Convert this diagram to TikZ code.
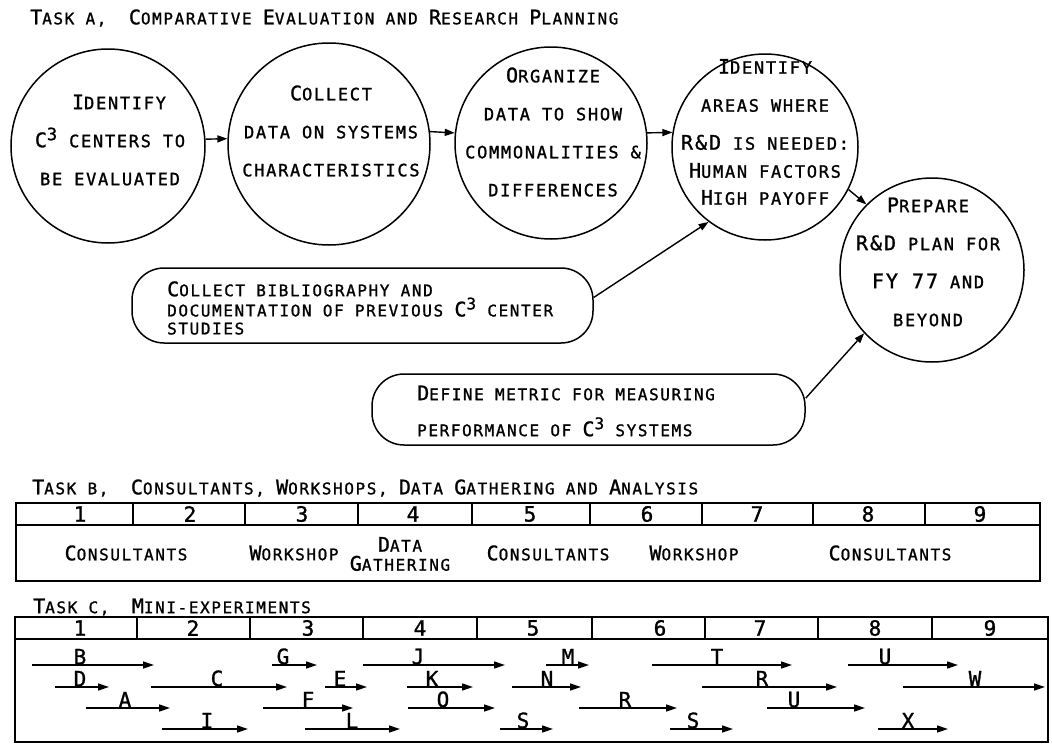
\documentclass[tikz,border=0pt]{standalone}
\usepackage{fontspec}
\usetikzlibrary{arrows.meta}
% typewriter-style lettering: small capitals built from two sizes of caps
\newfontfamily\ora[LetterSpace=10, FakeBold=1.2]{DejaVu Sans Mono}
\newcommand\Bg[1]{{\fontsize{20}{20}\selectfont #1}}
\newcommand\Cc{\Bg{C}\raisebox{7pt}{3}}
% one bar of the mini-experiment schedule: id, letter, x start, x end, row y, label x
\newcommand\mini[6]{%
  \coordinate (#1a) at (#3,#5);
  \coordinate (#1b) at (#4,#5);
  \draw[bar] (#1a) -- (#1b);
  \node[lbl] (#1) at (#6,#5) {#2};}
\begin{document}
\begin{tikzpicture}[x=1pt,y=-1pt,
  every node/.style={font=\ora\fontsize{16}{18}\selectfont, inner sep=0pt},
  bubble/.style={draw, circle, line width=1.5pt},
  txt/.style={align=center, font=\ora\fontsize{17}{38}\selectfont},
  pill/.style={draw, rounded corners=32pt, line width=1.5pt},
  conn/.style={line width=1.4pt, -{Triangle[length=10pt,width=7pt]}},
  bar/.style={line width=1.5pt, -{Triangle[length=11pt,width=7pt]}},
  tbl/.style={line width=1.5pt},
  lbl/.style={anchor=south, inner sep=0.5pt, font=\ora\fontsize{21}{21}\selectfont},
  num/.style={font=\ora\fontsize{21}{21}\selectfont},
  ttl/.style={anchor=west}]
\useasboundingbox (0,0) rectangle (1052,744);

% ---------------- Task A ----------------
\node[ttl] (ta) at (30,18) {\Bg{T}ASK A,\ \ \Bg{C}OMPARATIVE \Bg{E}VALUATION AND \Bg{R}ESEARCH \Bg{P}LANNING};

\node[bubble, minimum size=194pt] (c1) at (108,146) {};
\node[txt] (t1) at (110,140) {\hspace*{18pt}\Bg{I}DENTIFY\\\Cc{} CENTERS TO\\BE EVALUATED};

\node[bubble, minimum size=202pt] (c2) at (329,144) {};
\node[txt] (t2) at (331,131) {\Bg{C}OLLECT\\DATA ON SYSTEMS\\CHARACTERISTICS};

\node[bubble, minimum size=192pt] (c3) at (551,143) {};
\node[txt] (t3) at (553,132) {\Bg{O}RGANIZE\\DATA TO SHOW\\COMMONALITIES \&\\DIFFERENCES};

\node[bubble, minimum size=186pt] (c4) at (765,147) {};
\node[txt] (t4) at (765,132) {\Bg{I}DENTIFY\\AREAS WHERE\\\Bg{R\&D} IS NEEDED:\\[-10pt]\Bg{H}UMAN FACTORS\\[-11pt]\Bg{H}IGH PAYOFF};

\node[bubble, minimum size=184pt] (c5) at (932,270) {};
\node[txt] (t5) at (928,262) {\Bg{P}REPARE\\\Bg{R\&D} PLAN FOR\\\Bg{FY 77} AND\\BEYOND};

\node[pill, minimum width=461pt, minimum height=75pt] (bib) at (362.5,305.5) {};
\node[anchor=west, align=left] (bibt) at (167,308)
  {\Bg{C}OLLECT BIBLIOGRAPHY AND\\DOCUMENTATION OF PREVIOUS \Cc{} CENTER\\STUDIES};

\node[pill, minimum width=433pt, minimum height=71pt] (metric) at (588.5,409.5) {};
\node[anchor=west, align=left, font=\ora\fontsize{16}{36}\selectfont] (metrict) at (417,411)
  {\Bg{D}EFINE METRIC FOR MEASURING\\PERFORMANCE OF \Cc{} SYSTEMS};

\draw[conn] (c1.4) -- (c2.177);
\draw[conn] (c2.7) -- (c3.174);
\draw[conn] (c3.6) -- (c4.171);
\draw[conn] (c4.-27) -- (c5.135);
\draw[conn] (bib.2) -- (c4.-127);
\draw[conn] (metric.3) -- (c5.-137);

% ---------------- Task B ----------------
\node[ttl] (tb) at (32,488) {\Bg{T}ASK B,\ \ \Bg{C}ONSULTANTS, \Bg{W}ORKSHOPS, \Bg{D}ATA \Bg{G}ATHERING AND \Bg{A}NALYSIS};
\draw[tbl] (16,503) rectangle (1040,581);
\draw[tbl] (16,525) -- (1040,525);
\foreach \x in {133,245,358,472,590,702,813,925} \draw[tbl] (\x,503) -- (\x,525);
\foreach \n/\x in {1/80,2/190,3/302,4/413,5/530,6/647,7/757,8/868,9/980}
  \node[num] (b\n) at (\x,514) {\n};
\node (bl1) at (126,553) {\Bg{C}ONSULTANTS};
\node (bl2) at (294,553) {\Bg{W}ORKSHOP};
\node[align=center, font=\ora\fontsize{16}{19}\selectfont] (bl3) at (400,554) {\Bg{D}ATA\\\Bg{G}ATHERING};
\node (bl4) at (548,553) {\Bg{C}ONSULTANTS};
\node (bl5) at (694,553) {\Bg{W}ORKSHOP};
\node (bl6) at (890,553) {\Bg{C}ONSULTANTS};

% ---------------- Task C ----------------
\node[ttl] (tc) at (33,607) {\Bg{T}ASK C,\ \ \Bg{M}INI-EXPERIMENTS};
\draw[tbl] (15,617) rectangle (1048,742);
\draw[tbl] (15,639) -- (1048,639);
\foreach \x in {137,250,363,477,592,705,818,932} \draw[tbl] (\x,617) -- (\x,639);
\foreach \n/\x in {1/80,2/193,3/308,4/420,5/533,6/660,7/760,8/875,9/990}
  \node[num] (k\n) at (\x,628) {\n};

\mini{mB}{B}{32}{154}{665}{80}
\mini{mD}{D}{55}{109}{687}{80}
\mini{mA}{A}{86}{170}{708}{125}
\mini{mC}{C}{151}{287}{687}{217}
\mini{mI}{I}{162}{248}{729}{207}
\mini{mG}{G}{272}{317}{665}{283}
\mini{mE}{E}{325}{367}{687}{340}
\mini{mF}{F}{263}{353}{708}{308}
\mini{mL}{L}{305}{400}{729}{352}
\mini{mJ}{J}{363}{505}{665}{418}
\mini{mK}{K}{407}{473}{687}{432}
\mini{mO}{O}{408}{495}{708}{443}
\mini{mM}{M}{546}{589}{665}{568}
\mini{mN}{N}{512}{581}{687}{547}
\mini{mSa}{S}{500}{553}{729}{523}
\mini{mRa}{R}{579}{677}{708}{625}
\mini{mSb}{S}{670}{733}{729}{693}
\mini{mT}{T}{652}{792}{665}{717}
\mini{mRb}{R}{702}{837}{687}{762}
\mini{mUb}{U}{767}{865}{708}{794}
\mini{mUa}{U}{848}{958}{665}{885}
\mini{mW}{W}{903}{1045}{687}{975}
\mini{mX}{X}{878}{948}{729}{908}
\end{tikzpicture}
\end{document}
